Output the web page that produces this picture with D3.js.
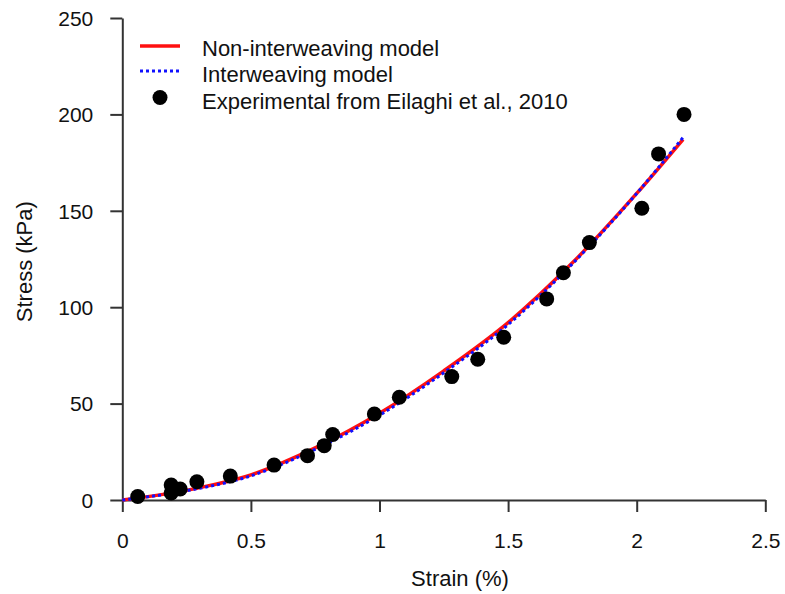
<!DOCTYPE html>
<html><head><meta charset="utf-8">
<script src="https://cdn.jsdelivr.net/npm/d3@7"></script>
<style>body{margin:0;background:#fff}svg{display:block}text{font-family:"Liberation Sans",Arial,sans-serif;fill:#111}</style>
</head><body>
<script>
const xTicks = [0, 0.5, 1, 1.5, 2, 2.5];
const yTicks = [0, 50, 100, 150, 200, 250];
const modelStrain = [0, 0.25, 0.5, 0.75, 1, 1.25, 1.5, 1.75, 2, 2.18];
const nonInterweaving = [0, 5, 13, 27, 45, 67, 92, 123, 159, 187];
const interweaving = [0, 4.8, 12.5, 26.3, 44, 66, 91, 122.5, 159, 188];
const expStrain = [0.06, 0.19, 0.19, 0.225, 0.29, 0.42, 0.59, 0.72, 0.785, 0.818, 0.98, 1.077, 1.281, 1.382, 1.483, 1.65, 1.715, 1.816, 2.02, 2.085, 2.184];
const expStress = [1.8, 7.8, 3.6, 5.7, 9.5, 12.4, 18.1, 23, 28.2, 34, 44.6, 53.3, 64, 73, 84.4, 104.3, 117.9, 133.5, 151.3, 179.5, 200];
const legendLabels = ["Non-interweaving model", "Interweaving model", "Experimental from Eilaghi et al., 2010"];

const W = 785, H = 594;
const svg = d3.select("body").append("svg").attr("width", W).attr("height", H);
const x = d3.scaleLinear().domain([0, 2.5]).range([122.3, 765.3]);
const y = d3.scaleLinear().domain([0, 250]).range([500, 18]);

const xAxis = d3.axisBottom(x).tickValues(xTicks).tickFormat(d => d).tickSize(12).tickSizeOuter(0).tickPadding(21);
const yAxis = d3.axisLeft(y).tickValues(yTicks).tickFormat(d => d).tickSize(12).tickSizeOuter(0).tickPadding(17);
const gx = svg.append("g").attr("transform", "translate(0,500)").call(xAxis);
const gy = svg.append("g").attr("transform", "translate(122.3,0)").call(yAxis);
[gx, gy].forEach(g => {
  g.selectAll("path,line").attr("stroke", "#333").attr("stroke-width", 2);
  g.selectAll("text").attr("font-size", 21).attr("fill", "#111").style("font-family", '"Liberation Sans",Arial,sans-serif');
});
gy.selectAll("text").attr("dy", "0.35em");
gx.selectAll("text").attr("dy", "0.71em");

svg.append("text").attr("x", 460).attr("y", 586).attr("text-anchor", "middle").attr("font-size", 22).text("Strain (%)");
svg.append("text").attr("transform", "translate(31.5,261.7) rotate(-90)").attr("text-anchor", "middle").attr("font-size", 22).text("Stress (kPa)");

const line = (vals) => d3.line().x((d, i) => x(modelStrain[i])).y(d => y(d)).curve(d3.curveMonotoneX)(vals);
svg.append("path").attr("d", line(nonInterweaving)).attr("fill", "none").attr("stroke", "#ff1010").attr("stroke-width", 3.5);
svg.append("path").attr("d", line(interweaving)).attr("fill", "none").attr("stroke", "#1010ff").attr("stroke-width", 3).attr("stroke-dasharray", "3,3");

svg.append("g").selectAll("circle").data(expStrain).join("circle")
  .attr("cx", d => x(d)).attr("cy", (d, i) => y(expStress[i])).attr("r", 7.5).attr("fill", "#000");

// legend
const lg = svg.append("g");
lg.append("line").attr("x1", 140).attr("x2", 180).attr("y1", 46).attr("y2", 46).attr("stroke", "#ff1010").attr("stroke-width", 3.5);
lg.append("line").attr("x1", 140).attr("x2", 180).attr("y1", 71).attr("y2", 71).attr("stroke", "#1010ff").attr("stroke-width", 3).attr("stroke-dasharray", "3,3");
lg.append("circle").attr("cx", 160).attr("cy", 97.5).attr("r", 7.5).attr("fill", "#000");
const legendBaselines = [56, 82.3, 108.5];
legendLabels.forEach((t, i) => {
  lg.append("text").attr("x", 202).attr("y", legendBaselines[i]).attr("font-size", 22).text(t);
});
</script>
</body></html>
